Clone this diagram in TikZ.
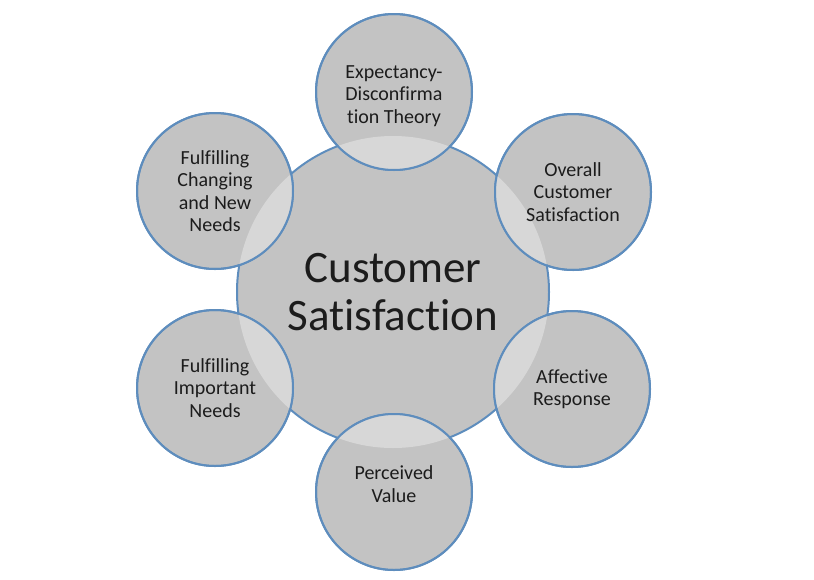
\documentclass[tikz,border=0pt]{standalone}
\usepackage{fontspec}
\setmainfont[Ligatures={NoCommon}]{Carlito}
\definecolor{fillgray}{HTML}{C3C3C3}
\definecolor{lensgray}{HTML}{D7D7D7}
\definecolor{rimblue}{HTML}{5E8DBD}
\definecolor{txt}{HTML}{1C1C1C}
\begin{document}
\begin{tikzpicture}[x=1pt,y=-1pt,
  hub/.style={circle,fill=fillgray,draw=rimblue,line width=2pt,minimum size=312pt,inner sep=0pt,
    text=txt,font=\fontsize{45}{48}\selectfont,align=center},
  petal/.style={circle,fill=fillgray,draw=rimblue,line width=2pt,minimum size=156pt,inner sep=0pt},
  label/.style={text=txt,font=\fontsize{20}{22.5}\selectfont,align=center}]
\useasboundingbox (0,0) rectangle (814,579);
\node[hub] (c) at (393,292) {Customer\\Satisfaction};
\foreach \n/\x/\y in {t/394/92, tr/573/192, br/572/389, b/394/492, bl/215/388, tl/215/191}{
  \node[petal] (\n) at (\x,\y) {};
  \begin{scope}
    \clip (\x,\y) circle (78pt);
    \fill[lensgray] (393,292) circle (156pt);
  \end{scope}
  \draw[rimblue,line width=2pt] (\x,\y) circle (78pt);
}
\node[label] at (t.center) [yshift=-4pt] {Expectancy-\\Disconfirma\\tion Theory};
\node[label] at (tr.center) {Overall\\Customer\\Satisfaction};
\node[label] at (br.center) {Affective\\Response};
\node[label] at (b.center) [yshift=8pt] {Perceived\\Value};
\node[label] at (bl.center) {Fulfilling\\Important\\Needs};
\node[label] at (tl.center) {Fulfilling\\Changing\\and New\\Needs};
\end{tikzpicture}
\end{document}
